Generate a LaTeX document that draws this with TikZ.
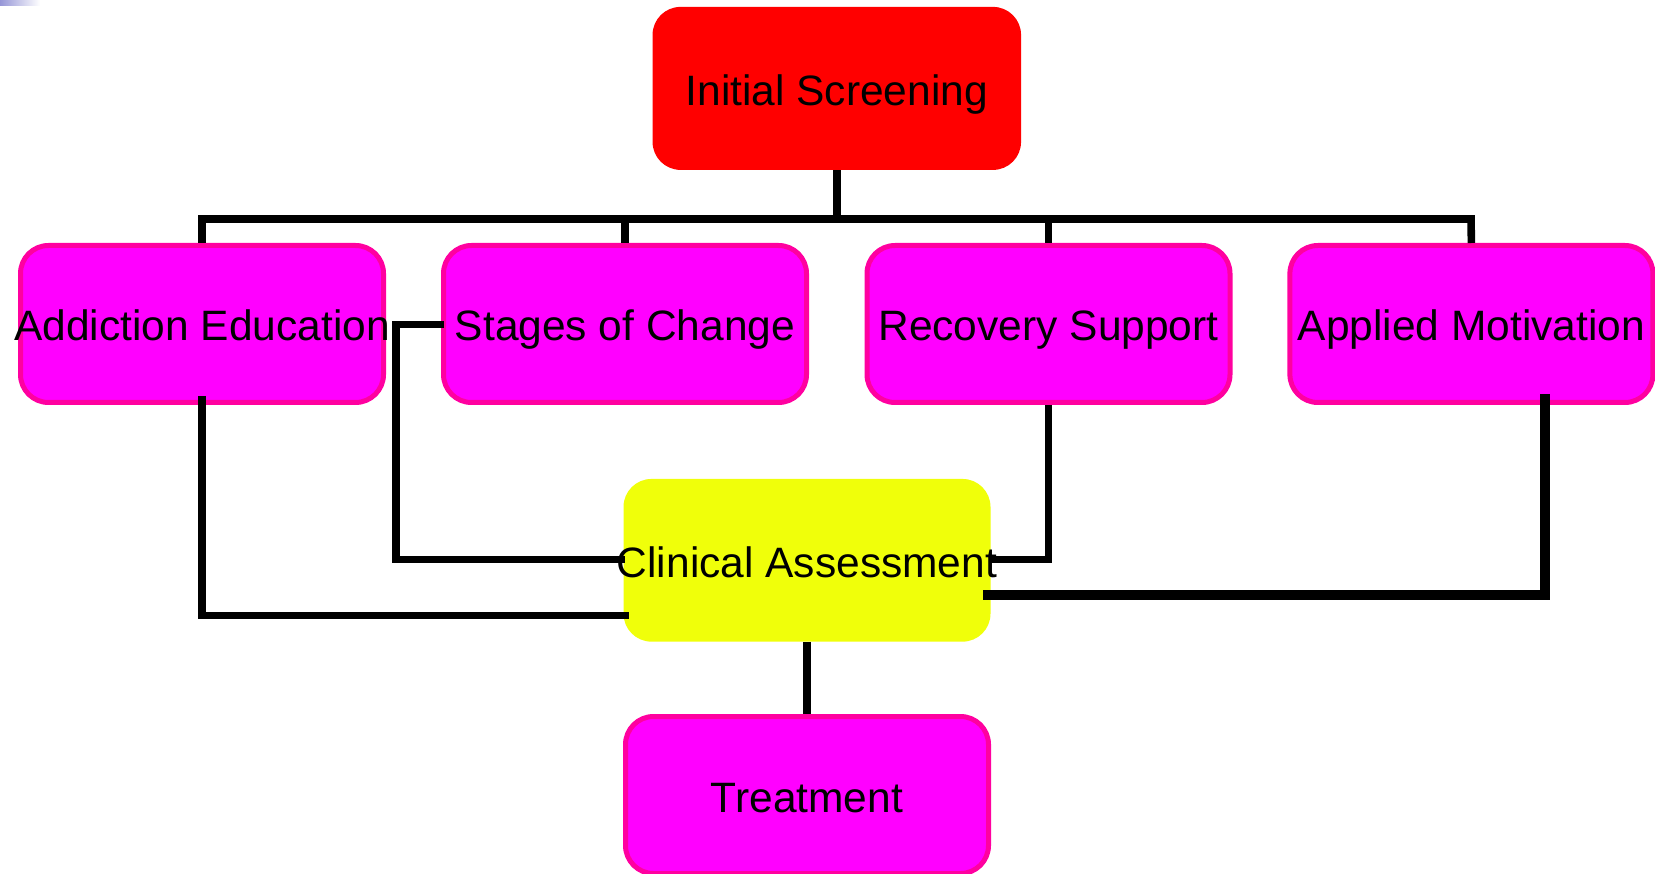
\documentclass[tikz,border=0pt]{standalone}
\usepackage{fontspec}
\setmainfont{Liberation Sans}
\usetikzlibrary{calc}
\definecolor{boxred}{RGB}{255,0,0}
\definecolor{boxmag}{RGB}{255,0,255}
\definecolor{boxpink}{RGB}{255,0,160}
\definecolor{boxyel}{RGB}{240,255,10}
\definecolor{barblue}{RGB}{150,150,215}
\newcommand{\boxtext}[1]{\makebox[0pt]{#1}}
\begin{document}
\begin{tikzpicture}[x=1pt,y=-1pt,
  basebox/.style={rectangle, rounded corners=28pt, inner sep=0pt, align=center,
    font=\fontsize{42.5}{48}\selectfont, text height=34pt, text depth=0pt},
  redbox/.style={basebox, fill=boxred, draw=none, minimum width=368.5pt, minimum height=163pt},
  magbox/.style={basebox, fill=boxmag, draw=boxpink, line width=5pt, minimum width=363pt, minimum height=157pt},
  yelbox/.style={basebox, fill=boxyel, draw=none, minimum width=367pt, minimum height=162.7pt},
  conn/.style={draw=black, line width=7.6pt, line join=miter, line cap=butt},
  thickconn/.style={conn, line width=10pt}
]
\useasboundingbox (0,0) rectangle (1655,874);
\fill[white] (0,0) rectangle (1655,874);
\shade[left color=barblue, right color=white] (0,0) rectangle (40,6);

\node[redbox] (is) at (836.8,88.4) {\boxtext{Initial Screening}};
\node[magbox] (ae) at (202,324) {\boxtext{Addiction Education}};
\node[magbox] (sc) at (625,324) {\boxtext{Stages of Change}};
\node[magbox] (rs) at (1048.5,324) {\boxtext{Recovery Support}};
\node[magbox] (am) at (1471.4,324) {\boxtext{Applied Motivation}};
\node[yelbox] (ca) at (807,560.3) {\boxtext{Clinical Assessment}};
\node[magbox] (tr) at (807,795) {\boxtext{Treatment}};

\coordinate (busL) at (202,219);
\coordinate (busR) at (1471,219);

% tree from Initial Screening
\draw[conn] (is.south) -- (is.south |- busL);
\draw[conn] (ae.north) -- (busL) -- (busR) -- (am.north);
\draw[conn] (sc.north) -- (sc.north |- busL);
\draw[conn] (rs.north) -- (rs.north |- busL);

% connectors to Clinical Assessment
\draw[conn] ($(ae.south)+(0,-9)$) |- ($(ca.west)+(6,55)$);
\draw[conn] ($(sc.west)+(3,0.5)$) -| (396,559.5) -- ($(ca.west)+(2,-0.8)$);
\draw[conn] (rs.south) |- ($(ca.east)+(-0.5,-0.8)$);
\draw[thickconn] ($(am.south)+(73.6,-11)$) |- ($(ca.east)+(-8,34.7)$);
\draw[conn] (ca.south) -- (tr.north);
\end{tikzpicture}
\end{document}
